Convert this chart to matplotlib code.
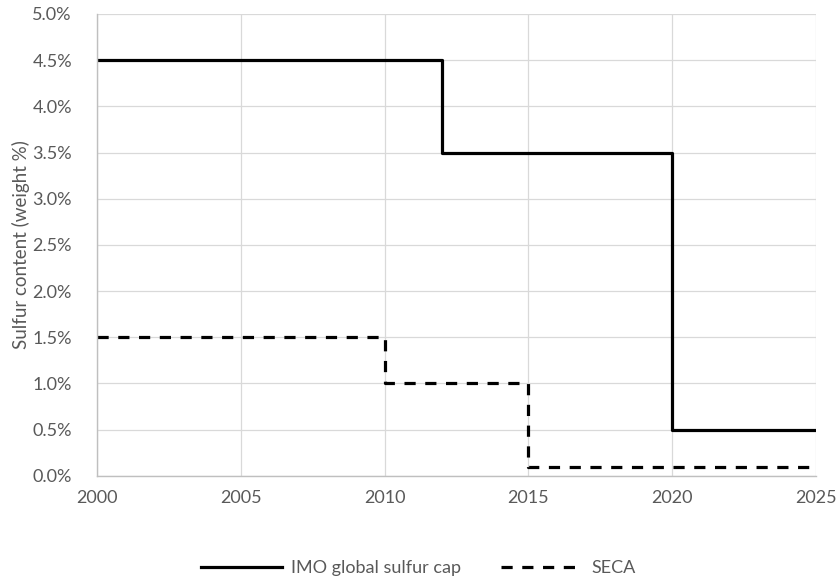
import matplotlib
matplotlib.use("Agg")
import matplotlib.pyplot as plt
from matplotlib.ticker import FuncFormatter

years_imo = [2000, 2012, 2020, 2025]
imo_cap = [4.5, 3.5, 0.5, 0.5]
years_seca = [2000, 2010, 2015, 2025]
seca_cap = [1.5, 1.0, 0.1, 0.1]
x_ticks = [2000, 2005, 2010, 2015, 2020, 2025]
y_ticks = [0.0, 0.5, 1.0, 1.5, 2.0, 2.5, 3.0, 3.5, 4.0, 4.5, 5.0]

plt.rcParams['font.family'] = ['Lato', 'DejaVu Sans']
fig = plt.figure(figsize=(8.36, 5.81), dpi=100)
ax = fig.add_axes([0.116, 0.181, 0.860, 0.795])

ax.step(years_imo, imo_cap, where='post', color='black', lw=2.3, label='IMO global sulfur cap')
ax.step(years_seca, seca_cap, where='post', color='black', lw=2.3, linestyle=(0, (3.5, 3)), label='SECA')

ax.set_xlim(2000, 2025)
ax.set_ylim(0, 5)
ax.set_xticks(x_ticks)
ax.set_yticks(y_ticks)
ax.yaxis.set_major_formatter(FuncFormatter(lambda v, p: f"{v:.1f}%"))
ax.grid(True, color='#d9d9d9', lw=0.9)
ax.set_axisbelow(True)
for s in ['top', 'right']:
    ax.spines[s].set_visible(False)
for s in ['left', 'bottom']:
    ax.spines[s].set_color('#bfbfbf')
    ax.spines[s].set_linewidth(1.0)
ax.tick_params(axis='y', length=0, labelsize=13, colors='#595959', pad=18)
ax.tick_params(axis='x', length=0, labelsize=13, colors='#595959', pad=10)
ax.set_ylabel('Sulfur content (weight %)', fontsize=13.5, color='#595959', labelpad=2)

leg = fig.legend(loc='center', bbox_to_anchor=(0.5, 0.022), ncol=2, frameon=False,
                 fontsize=13, handlelength=4.5, handletextpad=0.5, columnspacing=2.2)
for t in leg.get_texts():
    t.set_color('#595959')

fig.savefig('out.png', dpi=100)
